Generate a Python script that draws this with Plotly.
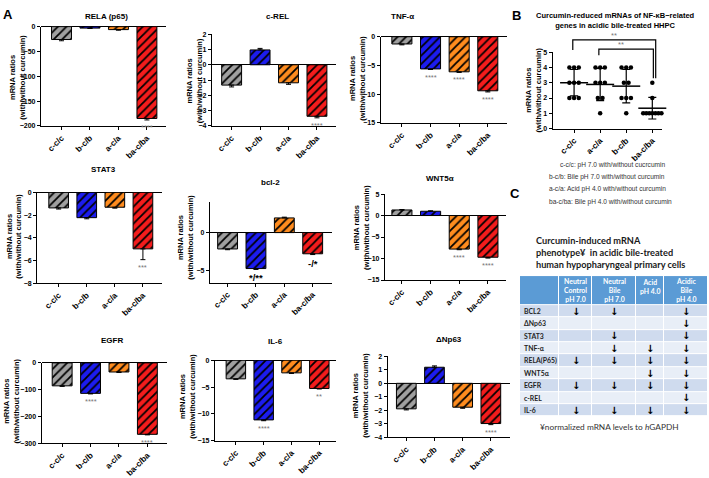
import plotly.graph_objects as go
import numpy as np

W, H = 709, 478
FONT = "Liberation Sans, Arial, sans-serif"
TFONT = "Lato, Open Sans, sans-serif"

# ---------------- data ----------------
categories = ["c-c/c", "b-c/b", "a-c/a", "ba-c/ba"]
bar_colors = ["#a0a0a0", "#1c1cf0", "#ff8c1e", "#f41c1c"]

rela_vals = [-26, -3, -6, -185]
rela_err = [2.5, 0.8, 1.2, 3.0]
rela_sig = ["", "", "", "****"]

crel_vals = [-1.33, 0.97, -1.18, -3.37]
crel_err = [0.12, 0.1, 0.1, 0.1]
crel_sig = ["", "", "", "****"]

tnf_vals = [-1.26, -5.6, -6.1, -9.4]
tnf_err = [0.15, 0.1, 0.1, 0.2]
tnf_sig = ["", "****", "****", "****"]

stat3_vals = [-1.36, -2.22, -1.3, -4.97]
stat3_err = [0.1, 0.1, 0.08, 0.95]
stat3_sig = ["", "", "", "***"]

bcl2_vals = [-2.16, -4.75, 1.94, -2.8]
bcl2_err = [0.1, 0.12, 0.1, 0.1]
bcl2_sig = ["", "*/**", "", "-/*"]

wnt5a_vals = [1.3, 1.0, -7.8, -9.7]
wnt5a_err = [0.1, 0.1, 0.15, 0.2]
wnt5a_sig = ["", "", "****", "****"]

egfr_vals = [-85.7, -113.8, -34, -266.8]
egfr_err = [2, 2, 2, 2]
egfr_sig = ["", "****", "", "****"]

il6_vals = [-3.46, -11.1, -2.35, -5.25]
il6_err = [0.1, 0.15, 0.1, 0.1]
il6_sig = ["", "****", "", "**"]

dnp63_vals = [-1.89, 1.19, -1.77, -2.98]
dnp63_err = [0.08, 0.1, 0.08, 0.08]
dnp63_sig = ["", "", "", "****"]

# panel B
b_categories = ["c-c/c", "a-c/a", "b-c/b", "ba-c/ba"]
b_cc = [4, 4, 4, 3, 3, 3, 2, 2, 2]
b_ac = [4, 4, 4, 3, 3, 3, 2, 2, 1]
b_bc = [4, 4, 4, 3, 3, 2, 2, 2, 1]
b_bac = [3, 2, 1, 1, 1, 1, 1, 1, 1]
b_brackets = [("**", 0, 3), ("**", 1, 3)]
b_notes = ["c-c/c: pH 7.0 with/without cucrcumin",
           "b-c/b: Bile pH 7.0 with/without curcumin",
           "a-c/a: Acid pH 4.0 with/without curcumin",
           "ba-c/ba: Bile pH 4.0 with/without curcumin"]

# panel C table
c_headers = ["", "Neutral<br>Control<br>pH 7.0", "Neutral<br>Bile<br>pH 7.0",
             "Acid<br>pH 4.0", "Acidic<br>Bile<br>pH 4.0"]
c_genes = ["BCL2", "ΔNp63", "STAT3", "TNF-α", "RELA(P65)", "WNT5α", "EGFR", "c-REL", "IL-6"]
c_down = [[1, 1, 0, 1],
          [0, 0, 0, 1],
          [0, 1, 0, 1],
          [0, 1, 1, 1],
          [1, 1, 1, 1],
          [0, 0, 1, 1],
          [1, 1, 1, 1],
          [0, 0, 0, 1],
          [1, 1, 1, 1]]

panels = [
    dict(title="RELA (p65)", vals=rela_vals, err=rela_err, sig=rela_sig, yr=[-200, 0], dtick=50),
    dict(title="c-REL", vals=crel_vals, err=crel_err, sig=crel_sig, yr=[-4, 2], dtick=1),
    dict(title="TNF-α", vals=tnf_vals, err=tnf_err, sig=tnf_sig, yr=[-15, 0], dtick=5),
    dict(title="STAT3", vals=stat3_vals, err=stat3_err, sig=stat3_sig, yr=[-8, 0], dtick=2),
    dict(title="bcl-2", vals=bcl2_vals, err=bcl2_err, sig=bcl2_sig, yr=[-6.6, 4], tickvals=[-5, 0]),
    dict(title="WNT5α", vals=wnt5a_vals, err=wnt5a_err, sig=wnt5a_sig, yr=[-15, 5], dtick=5),
    dict(title="EGFR", vals=egfr_vals, err=egfr_err, sig=egfr_sig, yr=[-300, 0], dtick=100),
    dict(title="IL-6", vals=il6_vals, err=il6_err, sig=il6_sig, yr=[-15, 0], dtick=5),
    dict(title="ΔNp63", vals=dnp63_vals, err=dnp63_err, sig=dnp63_sig, yr=[-4, 2], dtick=1),
]

# ---------------- layout geometry (pixels) ----------------
geoms = [
    dict(box=(41, 166, 23, 124, 0.72, 0.67), title=(107, 13), ylab=(18, 75)),
    dict(box=(212, 336, 30.7, 124, 0.69, 0.67), title=(277, 13), ylab=(194.5, 78)),
    dict(box=(380.7, 506.7, 33.3, 121, 0.74, 0.66), title=(402, 13), ylab=(358, 76)),
    dict(box=(37.3, 162.3, 191.7, 284, 0.76, 0.69), title=(103, 168), ylab=(13.7, 236)),
    dict(box=(210, 331.7, 201.7, 283.3, 0.62, 0.67), title=(270, 181.5), ylab=(185.3, 237.5)),
    dict(box=(385, 506, 193.3, 280.7, 0.59, 0.63), title=(440, 177.5), ylab=(361.7, 227)),
    dict(box=(41.7, 166.7, 365, 446.7, 0.72, 0.68), title=(112, 342.5), ylab=(11.3, 404)),
    dict(box=(215, 336, 362.3, 444.3, 0.75, 0.6), title=(275, 343), ylab=(187.5, 399)),
    dict(box=(387.7, 510, 358.3, 440.7, 0.66, 0.68), title=(449.3, 341.5), ylab=(360.5, 398)),
]


def px_x(p):
    return p / W


def px_y(p):
    return 1 - p / H


fig = go.Figure()
annots = []
shapes = []
lay = {}

axis_common = dict(showgrid=False, linecolor="black", linewidth=1.3, ticks="outside",
                   ticklen=3, tickwidth=1.2, tickcolor="black", fixedrange=True)

YLAB = "<b>mRNA ratios<br>(with/without curcumin)</b>"

for k, (pan, geo) in enumerate(zip(panels, geoms), start=1):
    x0, x1, yt, yb, lp, rp = geo["box"]
    xa, ya = f"x{k}", f"y{k}"
    xn = "xaxis" if k == 1 else f"xaxis{k}"
    yn = "yaxis" if k == 1 else f"yaxis{k}"
    vals, err = pan["vals"], pan["err"]
    up = [e if v > 0 else 0 for v, e in zip(vals, err)]
    dn = [e if v < 0 else 0 for v, e in zip(vals, err)]
    for i, (cat, col) in enumerate(zip(categories, bar_colors)):
        fig.add_trace(go.Bar(
            x=[i], y=[vals[i]], width=0.7, xaxis=xa, yaxis=ya,
            marker=dict(color=col, line=dict(color="black", width=1),
                        pattern=dict(shape="/", fillmode="replace", bgcolor=col,
                                     fgcolor="black", fgopacity=1, size=6, solidity=0.3)),
            error_y=dict(type="data", symmetric=False, array=[up[i]], arrayminus=[dn[i]],
                         color="black", thickness=1, width=2.5),
            hoverinfo="skip", showlegend=False))
    lay[xn] = dict(axis_common, domain=[px_x(x0), px_x(x1)], anchor=ya,
                   range=[-lp, len(categories) - 1 + rp], tickvals=list(range(len(categories))),
                   ticktext=categories, tickangle=-45, zeroline=False, showline=True,
                   tickfont=dict(family=FONT, size=8.2, color="black", weight="bold"))
    yax = dict(axis_common, domain=[px_y(yb), px_y(yt)], anchor=xa, range=pan["yr"],
               showline=True, zeroline=True, zerolinecolor="black", zerolinewidth=1.3,
               tickfont=dict(family=FONT, size=7, color="black", weight="bold"))
    if "tickvals" in pan:
        yax["tickvals"] = pan["tickvals"]
    else:
        yax["dtick"] = pan["dtick"]
    lay[yn] = yax
    tx, ty = geo["title"]
    annots.append(dict(text=f"<b>{pan['title']}</b>", x=px_x(tx), y=px_y(ty), xref="paper",
                       yref="paper", showarrow=False, xanchor="center", yanchor="middle",
                       font=dict(family=FONT, size=8, color="black")))
    lx, ly = geo["ylab"]
    annots.append(dict(text=YLAB, x=px_x(lx), y=px_y(ly), xref="paper", yref="paper",
                       showarrow=False, textangle=-90, xanchor="center", yanchor="middle",
                       font=dict(family=FONT, size=7.5, color="black")))
    for i, s in enumerate(pan["sig"]):
        if not s:
            continue
        black = "/" in s
        annots.append(dict(text=f"<b>{s}</b>" if black else s, x=i, y=vals[i] - dn[i],
                           xref=xa, yref=ya, showarrow=False, yanchor="top", yshift=-1,
                           font=dict(family=FONT, size=9.5 if black else 7.5,
                                     color="black" if black else "#777777")))

# ---------------- panel B ----------------
bx0, bx1, byt, byb = 552.7, 661.7, 49, 126.7
bxr = [-0.82, 3.36]
byr = [0, 5]
groups = [b_cc, b_ac, b_bc, b_bac]
xs, ys = [], []
for i, g in enumerate(groups):
    arr = np.array(g, dtype=float)
    for v in sorted(set(g)):
        n = int((arr == v).sum())
        sp = min(0.18, 0.7 / max(n - 1, 1))
        for j in range(n):
            xs.append(i + (j - (n - 1) / 2) * sp)
            ys.append(v)
means = [float(np.mean(g)) for g in groups]
sds = [float(np.std(g, ddof=1)) for g in groups]
fig.add_trace(go.Scatter(x=xs, y=ys, mode="markers", xaxis="x10", yaxis="y10",
                         marker=dict(color="black", size=4.5), hoverinfo="skip", showlegend=False,
                         cliponaxis=False))
fig.add_trace(go.Scatter(x=list(range(4)), y=means, mode="markers", xaxis="x10", yaxis="y10",
                         marker=dict(symbol="line-ew", size=20, color="black",
                                     line=dict(color="black", width=1.5)),
                         error_y=dict(type="data", array=sds, color="black", thickness=1.2, width=4),
                         hoverinfo="skip", showlegend=False, cliponaxis=False))
lay["xaxis10"] = dict(axis_common, domain=[px_x(bx0), px_x(bx1)], anchor="y10", range=bxr,
                      tickvals=list(range(4)), ticktext=b_categories, tickangle=-45,
                      zeroline=False, showline=True,
                      tickfont=dict(family=FONT, size=8.2, color="black", weight="bold"))
lay["yaxis10"] = dict(axis_common, domain=[px_y(byb), px_y(byt)], anchor="x10", range=byr,
                      dtick=1, zeroline=False, showline=True,
                      tickfont=dict(family=FONT, size=7, color="black", weight="bold"))


def bdx(v):
    return (v - bxr[0]) / (bxr[1] - bxr[0])


def bdy(v):
    return (v - byr[0]) / (byr[1] - byr[0])


bracket_y = [5.8, 5.2]
left_drop = [5.15, 4.8]
right_drop = [3.3, 3.3]
right_off = [0.13, 0.04]
for (txt, a, b), yv, ld, rd, ro in zip(b_brackets, bracket_y, left_drop, right_drop, right_off):
    xa_, xb_ = bdx(a - 0.05), bdx(b + ro)
    pts = f"M {xa_},{bdy(ld)} L {xa_},{bdy(yv)} L {xb_},{bdy(yv)} L {xb_},{bdy(rd)}"
    shapes.append(dict(type="path", path=pts, xref="x10 domain", yref="y10 domain",
                       line=dict(color="black", width=1.2)))
    annots.append(dict(text=txt, x=(xa_ + xb_) / 2, y=bdy(yv), xref="x10 domain",
                       yref="y10 domain", showarrow=False, yanchor="bottom", yshift=-2,
                       font=dict(family=FONT, size=7.5, color="#777777")))

annots.append(dict(text="<b>Curcumin-reduced mRNAs of NF-κB−related<br>genes in acidic bile-treated HHPC</b>",
                   x=px_x(615), y=px_y(16.5), xref="paper", yref="paper", showarrow=False,
                   xanchor="center", yanchor="middle",
                   font=dict(family=FONT, size=7.5, color="black")))
annots.append(dict(text=YLAB, x=px_x(534), y=px_y(88), xref="paper", yref="paper",
                   showarrow=False, textangle=-90, xanchor="center", yanchor="middle",
                   font=dict(family=FONT, size=7.5, color="black")))
note_x = [558, 547, 547, 547]
note_y = [163.5, 176, 188.5, 201]
for t, nx, ny in zip(b_notes, note_x, note_y):
    annots.append(dict(text=t, x=px_x(nx), y=px_y(ny), xref="paper", yref="paper",
                       showarrow=False, xanchor="left", yanchor="middle",
                       font=dict(family=FONT, size=6.6, color="#333333")))

# ---------------- panel C (table as heatmap) ----------------
col_w = [39.3, 32.7, 44, 28.3, 44]
row_h = [29.3] + [12.6] * len(c_genes)
tx0, tyt = 520, 276.7
xedges = np.concatenate([[0], np.cumsum(col_w)])
yedges = np.concatenate([[0], np.cumsum(row_h)])
zrows = [[0] * len(col_w)] + [[1 + (r % 2)] * len(col_w) for r in range(len(c_genes))]
fig.add_trace(go.Heatmap(x=xedges, y=yedges, z=zrows, xaxis="x11", yaxis="y11",
                         colorscale=[[0, "#5b9bd5"], [0.5, "#cfdbee"], [1, "#e8eef7"]],
                         zmin=0, zmax=2, showscale=False, xgap=1, ygap=1, hoverinfo="skip"))
lay["xaxis11"] = dict(domain=[px_x(tx0), px_x(tx0 + xedges[-1])], anchor="y11",
                      range=[0, xedges[-1]], visible=False, fixedrange=True)
lay["yaxis11"] = dict(domain=[px_y(tyt + yedges[-1]), px_y(tyt)], anchor="x11",
                      range=[yedges[-1], 0], visible=False, fixedrange=True)
xc = (xedges[:-1] + xedges[1:]) / 2
yc = (yedges[:-1] + yedges[1:]) / 2
HF = 6.9
for j, htxt in enumerate(c_headers):
    if htxt:
        nl = htxt.count("<br>") + 1
        yy = yc[0] - (3 - nl) * HF * 1.3 / 2
        annots.append(dict(text=f"<b>{htxt}</b>", x=xc[j], y=yy, xref="x11", yref="y11",
                           showarrow=False, xanchor="center", yanchor="middle",
                           font=dict(family=TFONT, size=HF, color="white")))
for r, gname in enumerate(c_genes):
    annots.append(dict(text=f"<b>{gname}</b>", x=1.5, y=yc[r + 1], xref="x11", yref="y11",
                       showarrow=False, xanchor="left", yanchor="middle",
                       font=dict(family=TFONT, size=6.9, color="#1f1f1f")))
    for c, d in enumerate(c_down[r]):
        if d:
            annots.append(dict(text="<b>↓</b>", x=xc[c + 1], y=yc[r + 1], xref="x11", yref="y11",
                               showarrow=False, xanchor="center", yanchor="middle",
                               font=dict(family="DejaVu Sans", size=10, color="black")))

for i, line in enumerate(["Curcumin-induced mRNA", "phenotype¥  in acidic bile-treated",
                          "human hypopharyngeal primary cells"]):
    annots.append(dict(text=f"<b>{line}</b>", x=px_x(534), y=px_y(240.7 + 12.3 * i),
                       xref="paper", yref="paper", showarrow=False, xanchor="left",
                       yanchor="middle", font=dict(family=TFONT, size=9.2, color="#1a1a1a")))
annots.append(dict(text="¥normalized mRNA levels to <i>h</i>GAPDH", x=px_x(609), y=px_y(430),
                   xref="paper", yref="paper", showarrow=False, xanchor="center",
                   yanchor="middle", font=dict(family=TFONT, size=8.3, color="#333333")))

for letter, lx, ly in [("A", 8, 11), ("B", 516, 12), ("C", 515, 193)]:
    annots.append(dict(text=f"<b>{letter}</b>", x=px_x(lx), y=px_y(ly), xref="paper",
                       yref="paper", showarrow=False, xanchor="center", yanchor="middle",
                       font=dict(family=FONT, size=13, color="black")))

fig.update_layout(width=W, height=H, margin=dict(l=0, r=0, t=0, b=0),
                  paper_bgcolor="white", plot_bgcolor="rgba(0,0,0,0)",
                  showlegend=False, annotations=annots, shapes=shapes, barmode="overlay",
                  font=dict(family=FONT), **lay)
fig.write_html("out.html", config={"displayModeBar": False},
               post_script="document.body.style.margin='0px';")
